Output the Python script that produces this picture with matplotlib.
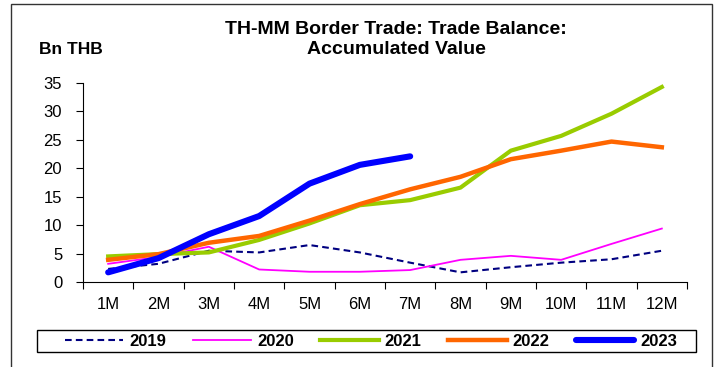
import matplotlib
matplotlib.use('Agg')
import matplotlib.pyplot as plt
from matplotlib.patches import Rectangle
import numpy as np

plt.rcParams['font.family'] = ['Liberation Sans', 'DejaVu Sans']

MONTHS = ['1M', '2M', '3M', '4M', '5M', '6M', '7M', '8M', '9M', '10M', '11M', '12M']
Y2019 = [2.3, 3.2, 5.5, 5.2, 6.5, 5.2, 3.4, 1.7, 2.6, 3.4, 4.0, 5.5]
Y2020 = [3.2, 4.4, 6.2, 2.2, 1.8, 1.8, 2.1, 3.9, 4.6, 3.9, 6.7, 9.4]
Y2021 = [4.5, 4.9, 5.2, 7.4, 10.3, 13.5, 14.4, 16.6, 23.1, 25.7, 29.6, 34.3]
Y2022 = [3.9, 4.9, 6.9, 8.1, 10.8, 13.7, 16.3, 18.5, 21.6, 23.1, 24.7, 23.7]
Y2023 = [1.7, 4.2, 8.4, 11.6, 17.3, 20.6, 22.1]

SERIES = [
    ('2019', Y2019, dict(color='#000080', lw=1.5, ls=(0, (3.2, 2.0)))),
    ('2020', Y2020, dict(color='#FF00FF', lw=1.3)),
    ('2021', Y2021, dict(color='#99CC00', lw=3.0)),
    ('2022', Y2022, dict(color='#FF6600', lw=3.2)),
    ('2023', Y2023, dict(color='#0000FF', lw=4.4, solid_capstyle='round')),
]

W, H = 715, 367
fig = plt.figure(figsize=(W / 100, H / 100), dpi=100)
ax = fig.add_axes([83 / W, 1 - 282 / H, 604 / W, 199 / H])

x = np.arange(len(MONTHS))
for name, vals, style in SERIES:
    ax.plot(x[:len(vals)], vals, label=name, **style)

ax.set_xlim(-0.5, len(MONTHS) - 0.5)
ax.set_ylim(0, 35)
ax.set_yticks(range(0, 36, 5))
ax.set_xticks(x)
ax.set_xticklabels(MONTHS)
ax.set_xticks(np.arange(-0.5, len(MONTHS)), minor=True)
ax.tick_params(axis='x', which='major', length=0, pad=10.5, labelsize=12)
ax.tick_params(axis='x', which='minor', length=5, width=0.8, direction='out')
ax.tick_params(axis='y', length=5, width=0.8, direction='out', labelsize=12, pad=10)
for side in ('top', 'right'):
    ax.spines[side].set_visible(False)
for side in ('left', 'bottom'):
    ax.spines[side].set_linewidth(0.8)

# title, two lines
fig.text(396 / W, 1 - 30 / H, 'TH-MM Border Trade: Trade Balance:',
         ha='center', va='center', fontsize=14, fontweight='bold')
fig.text(396 / W, 1 - 50 / H, 'Accumulated Value',
         ha='center', va='center', fontsize=14, fontweight='bold')
fig.text(39 / W, 1 - 50 / H, 'Bn THB', ha='left', va='center',
         fontsize=12.5, fontweight='bold')

# legend entries, frame drawn separately below
handles, labels = ax.get_legend_handles_labels()
fig.legend(handles, labels, loc='center', bbox_to_anchor=(371 / W, 1 - 341 / H),
           ncol=5, frameon=False, handlelength=3.5, handletextpad=0.36,
           columnspacing=1.6, borderpad=0.1,
           prop=dict(weight='bold', size=12))
fig.patches.append(Rectangle((37 / W, 1 - 352 / H), 659 / W, 22 / H,
                             transform=fig.transFigure, fill=False,
                             edgecolor='black', lw=1.0))

# outer chart frame
fig.patches.append(Rectangle((11 / W, -0.1), 701 / W, 1.1 - 4 / H,
                             transform=fig.transFigure, fill=False,
                             edgecolor='#333333', lw=1.0))

fig.savefig('out.png', dpi=100)
